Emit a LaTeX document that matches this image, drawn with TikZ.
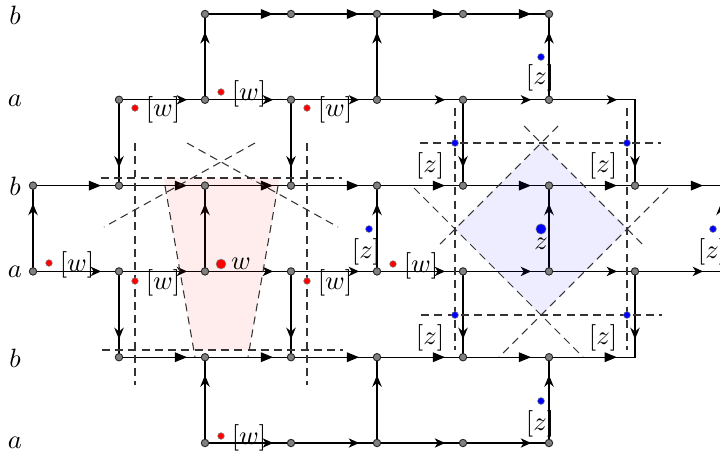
\documentclass[tikz,border=0pt]{standalone}
\usetikzlibrary{arrows.meta,decorations.markings}
\tikzset{
  trih/.tip={Triangle[length=4.6pt,width=3.6pt]},
  steh/.tip={Stealth[length=3.9pt,width=3.5pt,inset=1.1pt]},
  stev/.tip={Stealth[length=4.4pt,width=3.6pt,inset=1.5pt]},
  edgeline/.style={line width=0.5pt, draw=black},
  eb/.style={edgeline, postaction={decorate, decoration={markings, mark=at position 25.7pt with {\arrow{trih}}}}},
  ea/.style={edgeline, postaction={decorate, decoration={markings, mark=at position 25.7pt with {\arrow{steh}}}}},
  ev/.style={edgeline, postaction={decorate, decoration={markings, mark=at position 25.6pt with {\arrow{stev}}}}},
  dl/.style={line width=0.4pt, draw=black!80, dash pattern=on 3pt off 2pt},
  gdot/.style={circle, fill=black!50, draw=black!85, line width=0.35pt, inner sep=0pt, minimum size=2.8pt},
  rdot/.style={circle, fill=red, draw=black!50, line width=0.2pt, inner sep=0pt, minimum size=2.5pt},
  rbig/.style={rdot, minimum size=3.7pt},
  bdot/.style={circle, fill=blue, draw=black!50, line width=0.2pt, inner sep=0pt, minimum size=2.6pt},
  bbig/.style={bdot, minimum size=3.9pt},
  lab/.style={inner sep=0pt}
}
\begin{document}
\begin{tikzpicture}[x=0.3774pt,y=-0.3774pt]
\useasboundingbox (0,0) rectangle (720,456);
\clip (0,0) rectangle (720,456);
% grid coordinates
\foreach \i in {0,...,8}{\foreach \j in {0,...,5}{
  \coordinate (n\i\j) at ({33+86*\i},{14+85.8*\j});}}
% row 0 (b)
\foreach \a/\b in {2/3,3/4,4/5,5/6}{\draw[eb] (n\a0) -- (n\b0);}
% row 1 (a)
\foreach \a/\b in {1/2,2/3,3/4,4/5,5/6}{\draw[ea] (n\a1) -- (n\b1);}
\draw[edgeline, postaction={decorate, decoration={markings,
   mark=at position 25.7pt with {\arrow{steh}},
   mark=at position 58.1pt with {\arrow{stev}}}}] (n61) -- (n71) -- (n72);
% row 2 (b)
\foreach \a/\b in {0/1,1/2,2/3,3/4,4/5,5/6,6/7,7/8}{\draw[eb] (n\a2) -- (n\b2);}
% row 3 (a)
\foreach \a/\b in {0/1,1/2,2/3,3/4,4/5,5/6,6/7,7/8}{\draw[ea] (n\a3) -- (n\b3);}
% row 4 (b)
\foreach \a/\b in {1/2,2/3,3/4,4/5,5/6}{\draw[eb] (n\a4) -- (n\b4);}
\draw[edgeline, postaction={decorate, decoration={markings,
   mark=at position 25.6pt with {\arrow{stev}},
   mark=at position 39.2pt with {\arrowreversed{trih}}}}] (n73) -- (n74) -- (n64);
% row 5 (a)
\foreach \a/\b in {2/3,3/4,4/5,5/6}{\draw[ea] (n\a5) -- (n\b5);}
% vertical up
\foreach \c/\r/\s in {2/1/0,4/1/0,6/1/0,0/3/2,2/3/2,4/3/2,6/3/2,8/3/2,2/5/4,4/5/4,6/5/4}{\draw[ev] (n\c\r) -- (n\c\s);}
% vertical down
\foreach \c/\r/\s in {1/1/2,3/1/2,5/1/2,1/3/4,3/3/4,5/3/4}{\draw[ev] (n\c\r) -- (n\c\s);}
% shaded regions
\fill[red, fill opacity=0.07] (163.6,178) -- (279.4,178) -- (249.2,350) -- (193.8,350) -- cycle;
\fill[blue, fill opacity=0.07] (541,143) -- (627,229) -- (541,315) -- (455,229) -- cycle;
% dashed lines, left
\draw[dl] (135,143) -- (135,385);
\draw[dl] (307,143) -- (307,385);
\draw[dl] (101,178) -- (342,178);
\draw[dl] (102,350) -- (343,350);
\draw[dl] (187,143) -- (338,227);
\draw[dl] (255,143) -- (104,227);
\draw[dl] (165,186) -- (195,357);
\draw[dl] (278,186) -- (248,357);
% dashed lines, right
\draw[dl] (455,108) -- (455,350);
\draw[dl] (627,108) -- (627,350);
\draw[dl] (420,143) -- (661,143);
\draw[dl] (421,315) -- (662,315);
\draw[dl] (558,126) -- (437,247);
\draw[dl] (524,126) -- (645,247);
\draw[dl] (414,188) -- (583,357);
\draw[dl] (668,188) -- (499,357);
% grey dots
\foreach \i in {2,...,6}{\node[gdot] (g\i0) at (n\i0) {};}
\foreach \i in {1,...,6}{\node[gdot] (g\i1) at (n\i1) {};}
\foreach \i in {0,...,7}{\node[gdot] (g\i2) at (n\i2) {};}
\foreach \i in {0,...,7}{\node[gdot] (g\i3) at (n\i3) {};}
\foreach \i in {1,...,6}{\node[gdot] (g\i4) at (n\i4) {};}
\foreach \i in {2,...,6}{\node[gdot] (g\i5) at (n\i5) {};}
% row labels
\node[lab] (rl0) at (15,15) {$b$};
\node[lab] (rl1) at (15,101) {$a$};
\node[lab] (rl2) at (15,186) {$b$};
\node[lab] (rl3) at (15,272) {$a$};
\node[lab] (rl4) at (15,358) {$b$};
\node[lab] (rl5) at (15,443) {$a$};
% red dots and labels
\foreach \k/\x/\y in {1/221/92, 2/135/108, 3/307/108, 4/49/263, 5/135/281, 6/307/281, 7/221/436, 8/393/264}{
  \node[rdot] (r\k) at (\x,\y) {};
  \node[lab] (lw\k) at (\x+28,\y+1.5) {$[w]$};}
\node[rbig] (rc) at (221,264) {};
\node[lab] (lwc) at (241,264) {$w$};
% blue dots and labels
\foreach \k/\x/\y/\lx/\ly in {1/541/57/540/78, 2/455/143/430/166, 3/627/143/603/166, 4/455/315/430/338, 5/627/315/603/338, 6/369/229/366/252, 7/541/401/540/424, 8/713/229/712/252}{
  \node[bdot] (b\k) at (\x,\y) {};
  \node[lab] (lz\k) at (\lx,\ly) {$[z]$};}
\node[bbig] (bc) at (541,229) {};
\node[lab] (lzc) at (541,244) {$z$};
\end{tikzpicture}
\end{document}
